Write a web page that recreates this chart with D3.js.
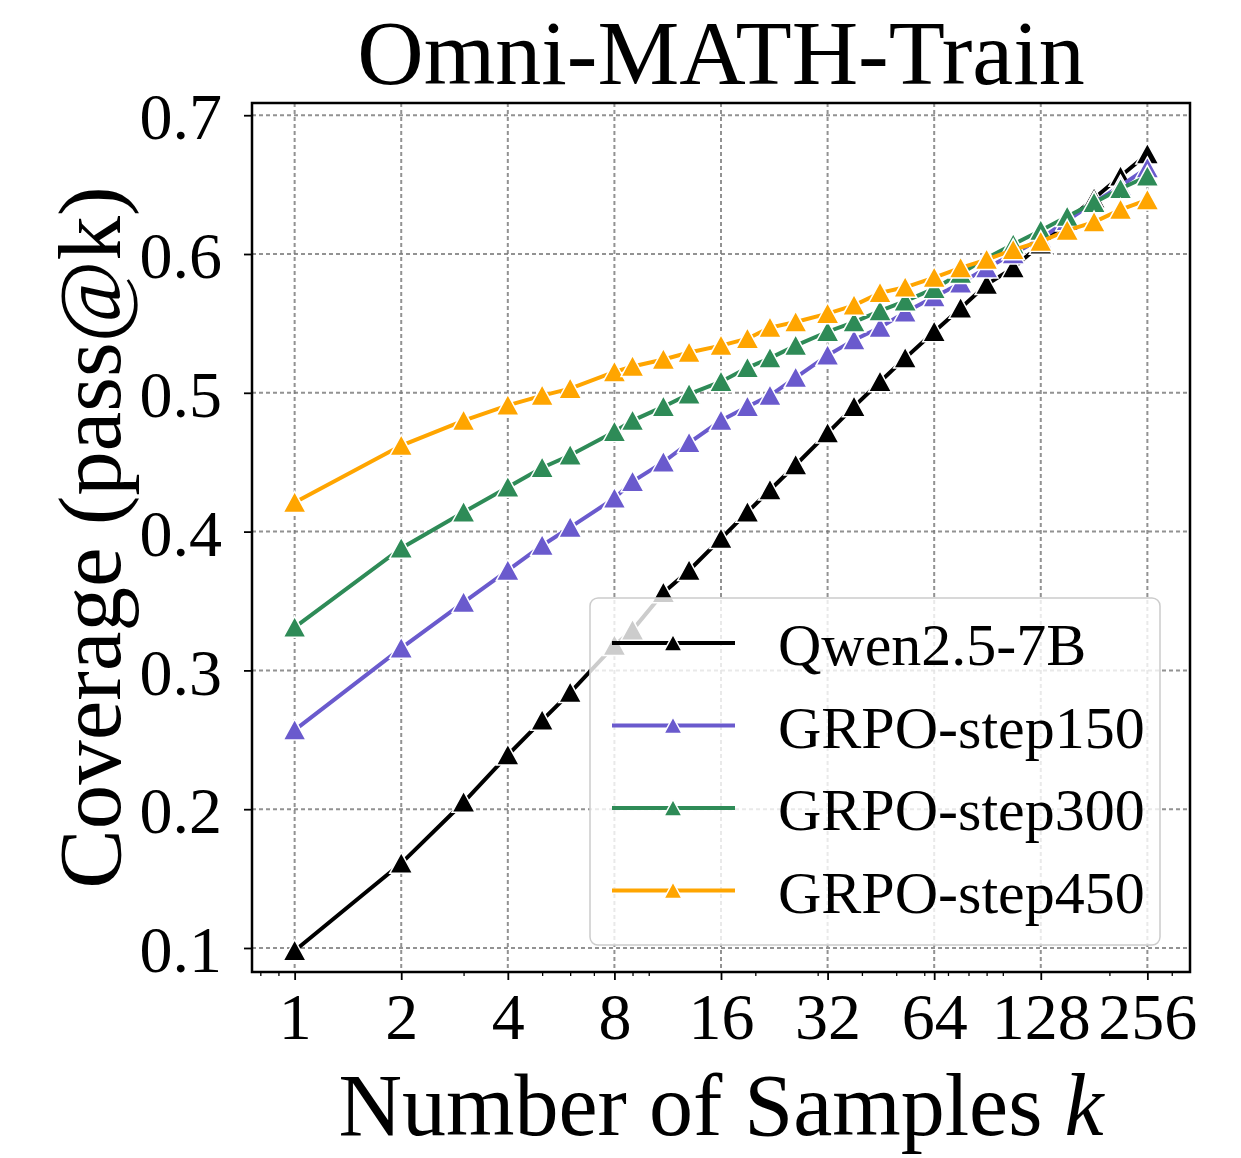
<!DOCTYPE html>
<html>
<head>
<meta charset="utf-8">
<script src="https://cdn.jsdelivr.net/npm/d3@7"></script>
<style>
  body { margin: 0; background: #fff; }
  svg { display: block; }
  text { font-family: "Liberation Serif", "Times New Roman", serif; fill: #000; }
</style>
</head>
<body>
<svg id="chart" width="1241" height="1158"></svg>
<script>
// sample counts k (log2 axis)
const ks = [1, 2, 3, 4, 5, 6, 8, 9, 11, 13, 16, 19, 22, 26, 32, 38, 45, 53, 64, 76, 90, 107, 128, 152, 181, 215, 256];

const qwen = [0.098, 0.161, 0.205, 0.239, 0.264, 0.284, 0.318, 0.329, 0.356, 0.372, 0.395, 0.414, 0.430, 0.448, 0.471, 0.490, 0.508, 0.525, 0.544, 0.561, 0.578, 0.590, 0.607, 0.624, 0.640, 0.656, 0.672];
const step150 = [0.257, 0.316, 0.349, 0.372, 0.390, 0.403, 0.424, 0.436, 0.450, 0.464, 0.480, 0.490, 0.498, 0.511, 0.527, 0.538, 0.547, 0.558, 0.569, 0.579, 0.590, 0.600, 0.611, 0.624, 0.637, 0.649, 0.662];
const step300 = [0.331, 0.388, 0.414, 0.432, 0.446, 0.455, 0.472, 0.480, 0.490, 0.499, 0.508, 0.518, 0.525, 0.534, 0.544, 0.551, 0.559, 0.566, 0.575, 0.586, 0.597, 0.607, 0.617, 0.627, 0.637, 0.647, 0.656];
const step450 = [0.421, 0.462, 0.480, 0.491, 0.498, 0.503, 0.515, 0.519, 0.524, 0.529, 0.534, 0.539, 0.547, 0.551, 0.557, 0.563, 0.572, 0.576, 0.583, 0.590, 0.596, 0.603, 0.609, 0.617, 0.623, 0.632, 0.639];

const seriesNames = ['Qwen2.5-7B', 'GRPO-step150', 'GRPO-step300', 'GRPO-step450'];
const seriesColors = ['#000000', '#6a5acd', '#2e8b57', '#ffa500'];
const seriesValues = [qwen, step150, step300, step450];

const xTicks = [1, 2, 4, 8, 16, 32, 64, 128, 256];
const xMinorTicks = [0.8, 0.9, 3, 5, 6, 7, 9, 10, 20, 30, 40, 50, 60, 70, 80, 90, 100, 200, 300];
const yTicks = [0.1, 0.2, 0.3, 0.4, 0.5, 0.6, 0.7];

const plot = { left: 252, right: 1190, top: 103, bottom: 972 };

const svg = d3.select('#chart');

const x = d3.scaleLog().base(2)
    .domain([Math.pow(2, -0.4), Math.pow(2, 8.4)])
    .range([plot.left, plot.right]);
const y = d3.scaleLinear()
    .domain([0.0827, 0.7088])
    .range([plot.bottom, plot.top]);

// grid
const grid = svg.append('g');
grid.selectAll('.gx')
    .data(xTicks)
    .enter()
    .append('line')
    .attr('x1', d => x(d)).attr('x2', d => x(d))
    .attr('y1', plot.top).attr('y2', plot.bottom)
    .attr('stroke', '#777').attr('stroke-width', 2)
    .attr('stroke-dasharray', '4,3').attr('opacity', 0.8);
grid.selectAll('.gy')
    .data(yTicks)
    .enter()
    .append('line')
    .attr('x1', plot.left).attr('x2', plot.right)
    .attr('y1', d => y(d)).attr('y2', d => y(d))
    .attr('stroke', '#777').attr('stroke-width', 2)
    .attr('stroke-dasharray', '4,3').attr('opacity', 0.8);

// axes
const xAxis = svg.append('g')
    .attr('transform', `translate(0,${plot.bottom})`)
    .call(d3.axisBottom(x).tickValues(xTicks).tickFormat(d => d).tickSize(8).tickPadding(10));
svg.append('g')
    .attr('transform', `translate(0,${plot.bottom})`)
    .call(d3.axisBottom(x).tickValues(xMinorTicks).tickFormat('').tickSize(4))
    .call(g => g.select('.domain').remove())
    .selectAll('line').attr('stroke-width', 1.3);
const yAxis = svg.append('g')
    .attr('transform', `translate(${plot.left},0)`)
    .call(d3.axisLeft(y).tickValues(yTicks).tickFormat(d3.format('.1f')).tickSize(8).tickPadding(22));

[xAxis, yAxis].forEach(g => {
    g.select('.domain').remove();
    g.selectAll('line').attr('stroke-width', 1.8);
    g.selectAll('text')
        .attr('font-family', '"Liberation Serif", serif')
        .attr('font-size', 66)
        .attr('fill', '#000');
});
xAxis.selectAll('text').attr('dy', '0.74em');
yAxis.selectAll('text').attr('dy', '0.36em');

// lines + markers
const tri = 'M0,-11L11.5,10L-11.5,10Z';
const triSmall = 'M0,-8.5L9,8L-9,8Z';
const line = d3.line()
    .x(d => x(d[0]))
    .y(d => y(d[1]));

seriesValues.forEach((vals, i) => {
    const pts = ks.map((k, j) => [k, vals[j]]);
    const g = svg.append('g');
    g.append('path')
        .datum(pts)
        .attr('d', line)
        .attr('fill', 'none')
        .attr('stroke', seriesColors[i])
        .attr('stroke-width', 4);
    g.selectAll('path.m')
        .data(pts)
        .enter()
        .append('path')
        .attr('class', 'm')
        .attr('d', tri)
        .attr('transform', d => `translate(${x(d[0])},${y(d[1])})`)
        .attr('fill', seriesColors[i])
        .attr('stroke', '#fff')
        .attr('stroke-width', 1.5);
});

// frame
svg.append('rect')
    .attr('x', plot.left).attr('y', plot.top)
    .attr('width', plot.right - plot.left).attr('height', plot.bottom - plot.top)
    .attr('fill', 'none').attr('stroke', '#000').attr('stroke-width', 2.5);

// legend
const legend = svg.append('g');
legend.append('rect')
    .attr('x', 590).attr('y', 598)
    .attr('width', 570).attr('height', 347)
    .attr('rx', 8)
    .attr('fill', '#fff').attr('fill-opacity', 0.8)
    .attr('stroke', '#ccc').attr('stroke-width', 1.5);

seriesNames.forEach((name, i) => {
    const ry = 643 + i * 82.5;
    legend.append('line')
        .attr('x1', 612).attr('x2', 735)
        .attr('y1', ry).attr('y2', ry)
        .attr('stroke', seriesColors[i]).attr('stroke-width', 4);
    legend.append('path')
        .attr('d', triSmall)
        .attr('transform', `translate(673,${ry})`)
        .attr('fill', seriesColors[i])
        .attr('stroke', '#fff').attr('stroke-width', 1.5);
    legend.append('text')
        .attr('x', 778).attr('y', ry + 22)
        .attr('font-size', 60)
        .text(name);
});

// titles
svg.append('text')
    .attr('x', (plot.left + plot.right) / 2).attr('y', 84)
    .attr('text-anchor', 'middle')
    .attr('font-size', 92)
    .text('Omni-MATH-Train');

const xl = svg.append('text')
    .attr('x', (plot.left + plot.right) / 2).attr('y', 1135)
    .attr('text-anchor', 'middle')
    .attr('font-size', 88);
xl.append('tspan').text('Number of Samples ');
xl.append('tspan').attr('font-style', 'italic').text('k');

svg.append('text')
    .attr('transform', `translate(120,${(plot.top + plot.bottom) / 2}) rotate(-90)`)
    .attr('text-anchor', 'middle')
    .attr('font-size', 89)
    .text('Coverage (pass@k)');
</script>
</body>
</html>
